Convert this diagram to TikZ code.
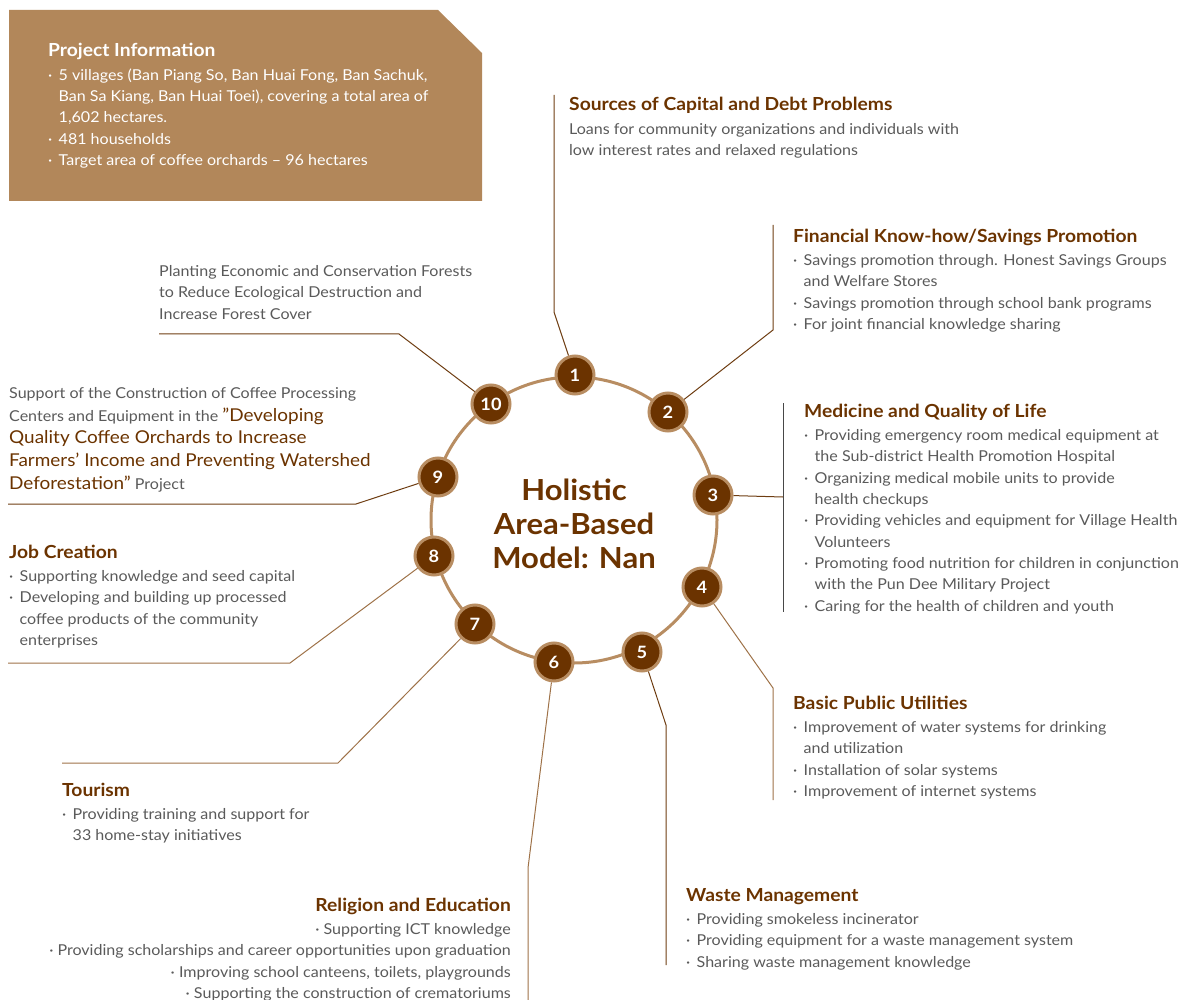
\documentclass[tikz,border=0pt]{standalone}
\usepackage{fontspec}
\setmainfont{Lato}[FakeStretch=1.07]

\definecolor{headbrown}{HTML}{6B3300}
\definecolor{numbrown}{HTML}{6B3300}
\definecolor{ringtan}{HTML}{B88D62}
\definecolor{boxtan}{HTML}{B2875A}
\definecolor{bodygrey}{HTML}{5A5A5A}
\definecolor{linkdark}{HTML}{6E3D12}
\definecolor{linktan}{HTML}{9E7248}

\newcommand\bodyfont{\fontsize{15}{21.3}\selectfont}
\newcommand\headfont{\fontsize{18}{21}\selectfont\bfseries}
\newcommand\numfont{\fontsize{17}{18}\selectfont\bfseries}
\newcommand\hubfont{\fontsize{29}{34}\selectfont\bfseries}
\newcommand\quotefont{\fontsize{17.7}{22.6}\selectfont\color{headbrown}}
\newcommand\dotitem{\makebox[10.5pt][l]{·}}
\newcommand\dotgap{\hspace*{10.5pt}}

\begin{document}
\begin{tikzpicture}[x=1pt, y=-1pt,
    num/.style={circle, minimum size=38pt, inner sep=0pt, fill=numbrown,
        draw=ringtan, line width=3pt, text=white, font=\numfont},
    head/.style={anchor=base west, inner sep=0pt, text=headbrown, font=\headfont},
    body/.style={anchor=north west, inner sep=0pt, text=bodygrey, font=\bodyfont,
        align=left, execute at begin node=\strut},
    link/.style={linkdark, line width=1pt},
    linkt/.style={linktan, line width=1pt}]
    \useasboundingbox (0,0) rectangle (1189,1000);

    % project information card
    \fill[boxtan] (9,10) -- (438,10) -- (482,53) -- (482,201) -- (9,201) -- cycle;
    \node[head, text=white] (info) at (48,57) {Project Information};
    \node[body, text=white] (infotext) at (48,68.4) {%
        \dotitem 5 villages (Ban Piang So, Ban Huai Fong, Ban Sachuk,\\
        \dotgap Ban Sa Kiang, Ban Huai Toei), covering a total area of\\
        \dotgap 1,602 hectares.\\
        \dotitem 481 households\\
        \dotitem Target area of coffee orchards -- 96 hectares};

    % ring with the ten numbered points
    \coordinate (hub) at (574,520);
    \draw[ringtan, line width=3pt] (hub) circle[radius=143pt];
    \node[font=\hubfont, text=headbrown, align=center] (title) at (574,524)
        {Holistic\\Area-Based\\Model: Nan};
    \foreach \i/\x/\y in {1/575/375, 2/668/412, 3/713/495, 4/702/587, 5/642/652,
                          6/554/662, 7/475/624, 8/434/556, 9/438/477, 10/491/404}
        \node[num] (n\i) at (\x,\y) {\i};

    % 1
    \node[head] (h1) at (569,111) {Sources of Capital and Debt Problems};
    \node[body] (b1) at (569,123.4) {Loans for community organizations and individuals with\\
        low interest rates and relaxed regulations};
    \coordinate (t1) at (554,95);
    \coordinate (k1) at (554,312);
    \draw[link] (t1) -- (k1) -- (n1);

    % 2
    \node[head] (h2) at (793,243) {Financial Know-how/Savings Promotion};
    \node[body] (b2) at (793,254.4) {%
        \dotitem Savings promotion through. Honest Savings Groups\\
        \dotgap and Welfare Stores\\
        \dotitem Savings promotion through school bank programs\\
        \dotitem For joint financial knowledge sharing};
    \coordinate (t2) at (773,225);
    \coordinate (k2) at (773,330);
    \draw[link] (t2) -- (k2) -- (n2);

    % 3
    \node[head] (h3) at (804,417) {Medicine and Quality of Life};
    \node[body] (b3) at (804,429.4) {%
        \dotitem Providing emergency room medical equipment at\\
        \dotgap the Sub-district Health Promotion Hospital\\
        \dotitem Organizing medical mobile units to provide\\
        \dotgap health checkups\\
        \dotitem Providing vehicles and equipment for Village Health\\
        \dotgap Volunteers\\
        \dotitem Promoting food nutrition for children in conjunction\\
        \dotgap with the Pun Dee Military Project\\
        \dotitem Caring for the health of children and youth};
    \coordinate (t3) at (783,403);
    \coordinate (e3) at (783,612);
    \coordinate (k3) at (783,497);
    \draw[line width=1pt, bodygrey!80!black] (t3) -- (e3);
    \draw[link] (n3) -- (k3);

    % 4
    \node[head] (h4) at (793,709) {Basic Public Utilities};
    \node[body] (b4) at (793,721.4) {%
        \dotitem Improvement of water systems for drinking\\
        \dotgap and utilization\\
        \dotitem Installation of solar systems\\
        \dotitem Improvement of internet systems};
    \coordinate (k4) at (773,688);
    \coordinate (e4) at (773,800);
    \draw[linkt] (n4) -- (k4) -- (e4);

    % 5
    \node[head] (h5) at (686,901) {Waste Management};
    \node[body] (b5) at (686,913.4) {%
        \dotitem Providing smokeless incinerator\\
        \dotitem Providing equipment for a waste management system\\
        \dotitem Sharing waste management knowledge};
    \coordinate (k5) at (666,725);
    \coordinate (e5) at (666,965);
    \draw[link] (n5) -- (k5) -- (e5);

    % 6
    \node[head, anchor=base east] (h6) at (511,911) {Religion and Education};
    \node[body, anchor=north east, align=right] (b6) at (511,923.4) {%
        · Supporting ICT knowledge\\
        · Providing scholarships and career opportunities upon graduation\\
        · Improving school canteens, toilets, playgrounds\\
        · Supporting the construction of crematoriums};
    \coordinate (k6) at (528,868);
    \coordinate (e6) at (528,1000);
    \draw[linkt] (n6) -- (k6) -- (e6);

    % 7
    \node[head] (h7) at (62,796) {Tourism};
    \node[body] (b7) at (62,808.4) {%
        \dotitem Providing training and support for\\
        \dotgap 33 home-stay initiatives};
    \coordinate (k7) at (338,763);
    \coordinate (e7) at (62,763);
    \draw[linkt] (n7) -- (k7) -- (e7);

    % 8
    \node[head] (h8) at (9,558) {Job Creation};
    \node[body] (b8) at (9,570.4) {%
        \dotitem Supporting knowledge and seed capital\\
        \dotitem Developing and building up processed\\
        \dotgap coffee products of the community\\
        \dotgap enterprises};
    \coordinate (k8) at (290,663);
    \coordinate (e8) at (8,663);
    \draw[linkt] (n8) -- (k8) -- (e8);

    % 9
    \node[body, font=\fontsize{15}{22.6}\selectfont] (b9) at (9,387.4) {%
        Support of the Construction of Coffee Processing\\
        Centers and Equipment in the {\quotefont "Developing}\\
        {\quotefont Quality Coffee Orchards to Increase}\\
        {\quotefont Farmers' Income and Preventing Watershed}\\
        {\quotefont Deforestation"} Project};
    \coordinate (k9) at (356,504);
    \coordinate (e9) at (8,504);
    \draw[link] (n9) -- (k9) -- (e9);

    % 10
    \node[body] (b10) at (159,265.4) {%
        Planting Economic and Conservation Forests\\
        to Reduce Ecological Destruction and\\
        Increase Forest Cover};
    \coordinate (k10) at (399,334);
    \coordinate (e10) at (159,334);
    \draw[link] (n10) -- (k10) -- (e10);
\end{tikzpicture}
\end{document}
